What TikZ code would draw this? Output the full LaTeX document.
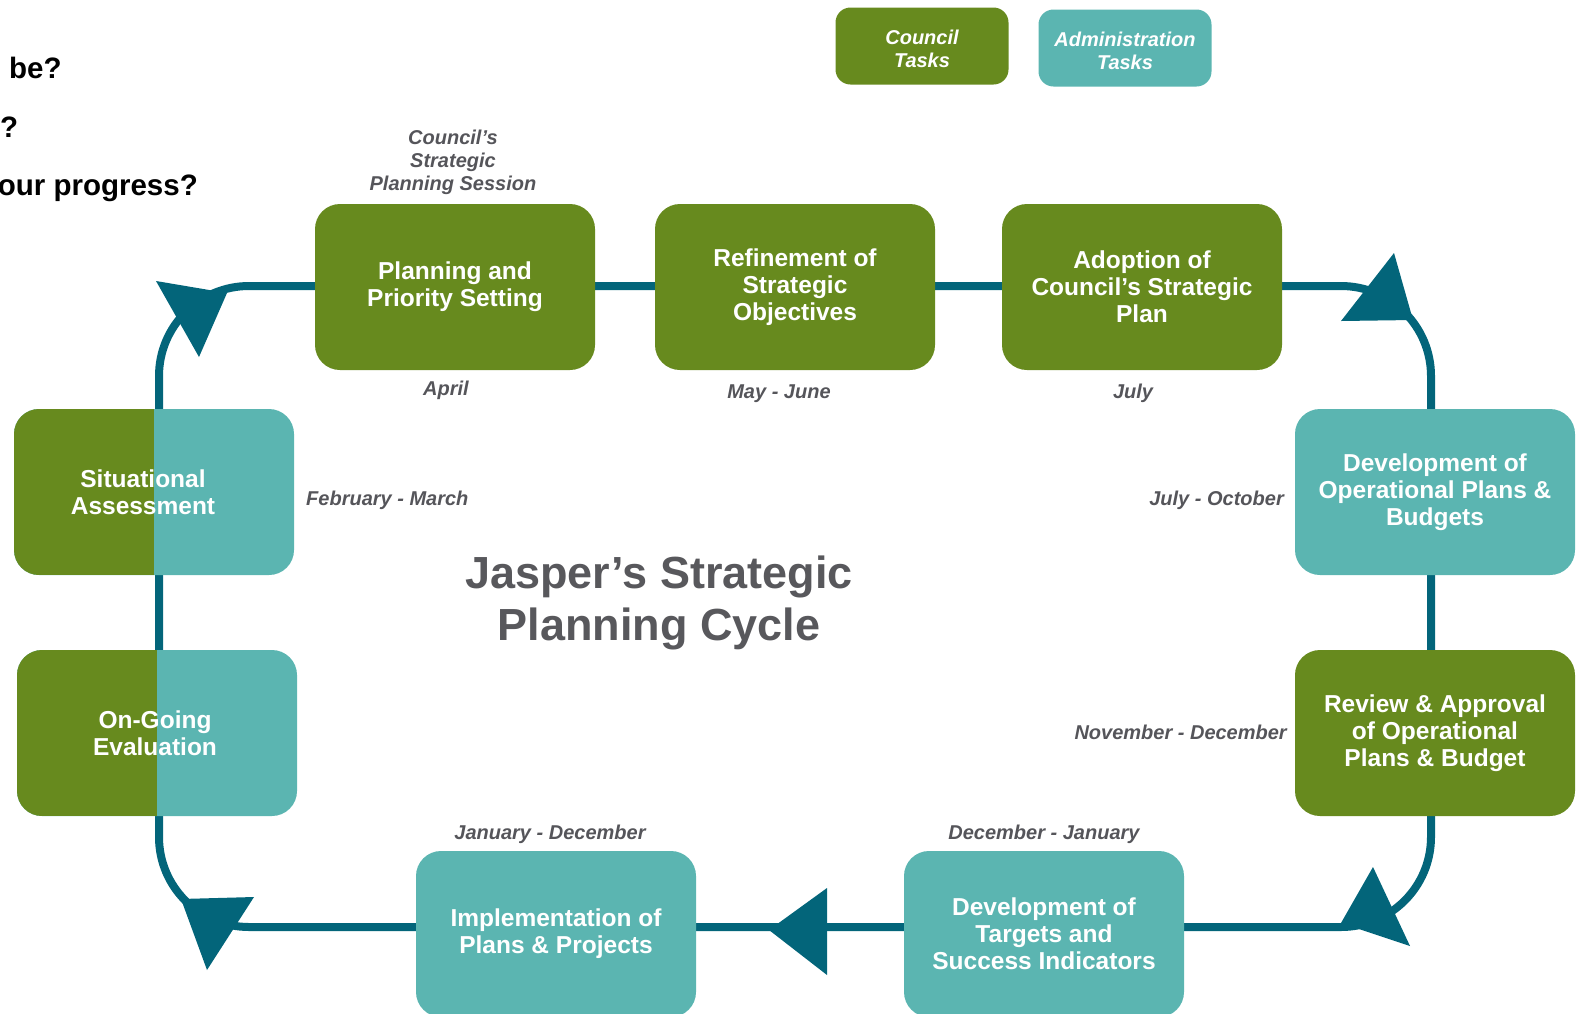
\documentclass[tikz,border=0pt]{standalone}
\usepackage{fontspec}
\setmainfont{Liberation Sans}
\definecolor{cgreen}{RGB}{103,138,30}
\definecolor{cteal}{RGB}{91,181,177}
\definecolor{cline}{RGB}{3,101,122}
\definecolor{cgray}{RGB}{85,85,90}
\definecolor{ctitle}{RGB}{88,88,92}
\begin{document}
\begin{tikzpicture}[x=1pt,y=-1pt,
  boxtext/.style={text=white, align=center, inner sep=0pt, font=\fontsize{24.5}{27}\selectfont\bfseries},
  box/.style={boxtext, rounded corners=25pt, minimum width=280pt, minimum height=166pt},
  council/.style={box, fill=cgreen},
  admin/.style={box, fill=cteal},
  both/.style={box, fill=cteal, path picture={\fill[cgreen, sharp corners] (path picture bounding box.north west) rectangle (path picture bounding box.south);}},
  legend/.style={rounded corners=15pt, minimum width=173pt, minimum height=77pt, inner sep=0pt},
  legendtext/.style={text=white, align=center, inner sep=0pt, font=\fontsize{20}{23}\selectfont\bfseries\itshape},
  datelbl/.style={font=\fontsize{20}{23}\selectfont\bfseries\itshape, text=cgray, inner sep=0pt, align=center},
  question/.style={font=\fontsize{29.5}{32}\selectfont\bfseries, text=black, inner sep=0pt},
  loopline/.style={draw=cline, line width=8pt, rounded corners=90pt},
  tip/.style={fill=cline}
]
\useasboundingbox (0,0) rectangle (1582,1013);

% loop
\coordinate (tl) at (159,286);
\coordinate (br) at (1431,927);
\draw[loopline] (tl) rectangle (br);

% arrowheads
\fill[tip] (156,281) -- (227,293) -- (199,357) -- cycle;
\fill[tip] (1394,253) -- (1413,320) -- (1341,321) -- cycle;
\fill[tip] (1373,867) -- (1410,946) -- (1341,923) -- cycle;
\fill[tip] (827,888) -- (827,975) -- (769,930) -- cycle;
\fill[tip] (181,899) -- (254,897) -- (207,970) -- cycle;

% boxes
\node[council] (plan) at (455,287) {Planning and\\Priority Setting};
\node[council] (refine) at (795,287) {Refinement of\\Strategic\\Objectives};
\node[council] (adopt) at (1142,287) {Adoption of\\Council’s Strategic\\Plan};
\node[admin] (devop) at (1435,492) {Development of\\Operational Plans \&\\Budgets};
\node[council] (review) at (1435,733) {Review \& Approval\\of Operational\\Plans \& Budget};
\node[admin] (targets) at (1044,934) {Development of\\Targets and\\Success Indicators};
\node[admin] (impl) at (556,934) {Implementation of\\Plans \& Projects};
\node[both] (sit) at (154,492) {};
\node[boxtext] (sittext) at (143,492) {Situational\\Assessment};
\node[both] (eval) at (157,733) {};
\node[boxtext] (evaltext) at (155,733) {On-Going\\Evaluation};

% legend
\node[legend, fill=cgreen] (lc) at (922,46) {};
\node[legendtext] (lctext) at (922,49) {Council\\Tasks};
\node[legend, fill=cteal] (la) at (1125,48) {};
\node[legendtext] (latext) at (1125,51) {Administration\\Tasks};

% date labels
\node[datelbl] (sess) at (453,162) {Council’s\\Strategic\\Planning Session};
\node[datelbl, anchor=base] (d1) at (446,395) {April};
\node[datelbl, anchor=base] (d2) at (779,398) {May - June};
\node[datelbl, anchor=base] (d3) at (1133,398) {July};
\node[datelbl, anchor=base west] (d4) at (306,505) {February - March};
\node[datelbl, anchor=base east] (d5) at (1284,505) {July - October};
\node[datelbl, anchor=base east] (d6) at (1287,739) {November - December};
\node[datelbl, anchor=base] (d7) at (550,839) {January - December};
\node[datelbl, anchor=base] (d8) at (1044,839) {December - January};

% title
\node[font=\fontsize{45}{52}\selectfont\bfseries, text=ctitle, align=center, inner sep=0pt] (title) at (659,603) {Jasper’s Strategic\\Planning Cycle};

% cut-off questions
\node[question, anchor=base west] (q1) at (9,78) {be?};
\node[question, anchor=base west] (q2) at (0,137) {?};
\node[question, anchor=base east] (q3) at (198,195) {our progress?};
\end{tikzpicture}
\end{document}
